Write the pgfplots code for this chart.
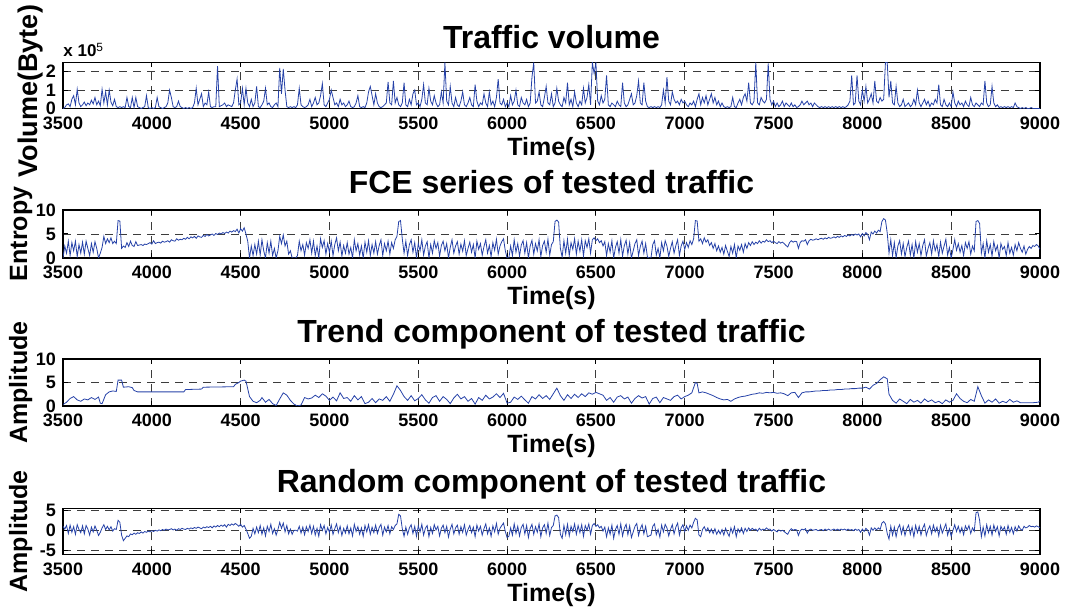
\documentclass[border=0pt]{standalone}
\usepackage{fontspec}
\setmainfont{Liberation Sans}
\usepackage{pgfplots}
\pgfplotsset{compat=1.18}
\definecolor{trace}{RGB}{38,66,168}
\definecolor{gridc}{RGB}{60,60,60}

\pgfplotsset{
  panel/.style={
    scale only axis, width=488.5pt,
    xmin=3500, xmax=9000, xtick={3500,4000,...,9000},
    grid=major,
    major grid style={dash pattern=on 4pt off 3pt, gridc, line width=0.45pt},
    tick align=inside, major tick length=2.5pt,
    tick style={black, line width=0.5pt},
    axis line style={black, line width=0.6pt},
    clip mode=individual,
    /pgf/number format/assume math mode=true,
    /pgf/number format/1000 sep={},
    ticklabel style={font=\fontsize{9}{9}\selectfont\bfseries},
    xticklabel style={anchor=base, yshift=-10.5pt},
    xlabel={Time(s)},
    every axis x label/.style={at={(axis description cs:0.5,0)}, anchor=base, yshift=-23.5pt,
                  font=\fontsize{12.5}{12.5}\selectfont\bfseries},
    every axis title/.style={at={(axis description cs:0.5,1)}, anchor=base, yshift=8pt,
                 font=\fontsize{16}{16}\selectfont\bfseries},
    every axis y label/.style={rotate=90, anchor=base, font=\fontsize{12.5}{12.5}\selectfont\bfseries},
    cycle list={{trace, line width=0.5pt, mark=none}},
  }
}

\begin{document}
\begin{tikzpicture}
\path[use as bounding box] (0,0) rectangle (532.5pt,305pt);

% ---------------- Traffic volume (bytes, in units of 1e5) ----------------
\begin{axis}[panel, at={(31.5pt,250.75pt)}, anchor=south west, height=23pt,
  ymin=0, ymax=2.5, ytick={0,1,2},
  title={Traffic volume}, title style={yshift=-1pt},
  ylabel={Volume(Byte)},
  ylabel style={at={(axis description cs:-0.0261,0.38)}, font=\fontsize{13.5}{13.5}\selectfont\bfseries}]
\addplot coordinates {
(3500,0.00)(3510,0.05)(3520,0.20)(3530,0.25)(3540,0.10)(3550,0.50)(3560,0.70)(3570,0.20)(3580,1.05)(3590,0.30)
(3600,0.10)(3610,0.20)(3620,0.35)(3630,0.15)(3640,0.30)(3650,0.20)(3660,0.45)(3670,0.25)(3680,0.60)(3690,0.20)
(3700,0.40)(3710,0.15)(3720,1.05)(3730,0.30)(3740,0.90)(3750,0.20)(3760,1.00)(3770,0.35)(3780,0.15)(3790,0.50)
(3800,0.10)(3810,0.05)(3820,0.10)(3830,0.05)(3840,0.10)(3850,0.05)(3860,0.60)(3870,0.10)(3880,0.05)(3890,0.60)
(3900,0.05)(3910,0.60)(3920,0.10)(3930,0.05)(3940,0.00)(3950,0.05)(3960,0.10)(3970,0.70)(3980,0.05)(3990,0.00)
(4000,0.05)(4010,0.00)(4020,0.05)(4030,0.60)(4040,0.10)(4050,0.05)(4060,0.00)(4070,0.05)(4080,0.10)(4090,0.30)
(4100,1.00)(4110,0.60)(4120,0.10)(4130,0.05)(4140,0.10)(4150,0.40)(4160,0.10)(4170,0.05)(4180,0.00)(4190,0.05)
(4200,0.00)(4210,0.05)(4220,0.00)(4230,0.05)(4240,0.30)(4250,1.10)(4260,0.20)(4270,0.50)(4280,0.80)(4290,0.10)
(4300,0.30)(4310,0.20)(4320,0.90)(4330,0.10)(4340,0.05)(4350,0.10)(4360,0.10)(4370,2.30)(4380,0.10)(4390,0.15)
(4400,0.20)(4410,0.30)(4420,0.10)(4430,0.20)(4440,0.15)(4450,0.10)(4460,0.30)(4470,1.00)(4480,1.60)(4490,0.20)
(4500,0.30)(4510,1.10)(4520,0.20)(4530,1.10)(4540,0.30)(4550,0.10)(4560,0.50)(4570,0.10)(4580,0.30)(4590,1.20)
(4600,0.10)(4610,0.05)(4620,0.20)(4630,0.40)(4640,1.10)(4650,0.20)(4660,0.30)(4670,0.10)(4680,0.05)(4690,0.20)
(4700,0.30)(4710,0.10)(4720,2.20)(4730,0.80)(4740,2.15)(4750,1.00)(4760,0.10)(4770,0.05)(4780,0.10)(4790,0.05)
(4800,0.10)(4810,0.05)(4820,0.20)(4830,1.10)(4840,0.20)(4850,0.10)(4860,0.05)(4870,0.10)(4880,0.20)(4890,0.50)
(4900,0.10)(4910,0.30)(4920,0.60)(4930,0.20)(4940,0.30)(4950,0.70)(4960,1.35)(4970,0.20)(4980,0.10)(4990,0.30)
(5000,0.50)(5010,1.00)(5020,0.60)(5030,0.20)(5040,0.30)(5050,0.10)(5060,0.50)(5070,0.20)(5080,0.30)(5090,0.10)
(5100,0.20)(5110,0.40)(5120,0.10)(5130,0.05)(5140,0.10)(5150,0.30)(5160,0.70)(5170,0.10)(5180,0.05)(5190,0.10)
(5200,0.05)(5210,0.30)(5220,0.90)(5230,1.20)(5240,0.70)(5250,0.20)(5260,0.80)(5270,0.30)(5280,0.10)(5290,0.05)
(5300,0.10)(5310,0.20)(5320,0.30)(5330,1.45)(5340,0.30)(5350,0.20)(5360,1.50)(5370,0.30)(5380,0.60)(5390,0.20)
(5400,0.10)(5410,0.30)(5420,1.40)(5430,0.20)(5440,0.10)(5450,0.50)(5460,0.20)(5470,0.80)(5480,1.00)(5490,0.20)
(5500,0.30)(5510,0.10)(5520,0.50)(5530,1.30)(5540,0.30)(5550,0.20)(5560,1.10)(5570,0.40)(5580,0.20)(5590,0.70)
(5600,0.30)(5610,0.10)(5620,0.20)(5630,0.90)(5640,0.30)(5650,2.50)(5660,0.40)(5670,0.20)(5680,1.20)(5690,0.30)
(5700,0.10)(5710,0.60)(5720,0.20)(5730,0.10)(5740,0.40)(5750,0.90)(5760,0.20)(5770,0.10)(5780,0.30)(5790,0.60)
(5800,0.20)(5810,0.10)(5820,1.30)(5830,0.40)(5840,0.10)(5850,0.30)(5860,0.20)(5870,0.80)(5880,0.30)(5890,0.10)
(5900,0.90)(5910,0.20)(5920,0.40)(5930,0.10)(5940,0.60)(5950,1.60)(5960,0.30)(5970,0.20)(5980,0.50)(5990,0.10)
(6000,0.30)(6010,0.10)(6020,0.70)(6030,0.20)(6040,0.40)(6050,1.00)(6060,0.20)(6070,0.10)(6080,0.60)(6090,0.30)
(6100,0.20)(6110,0.50)(6120,0.10)(6130,0.30)(6140,1.70)(6150,2.50)(6160,0.30)(6170,0.40)(6180,0.90)(6190,0.20)
(6200,0.10)(6210,0.60)(6220,1.20)(6230,0.30)(6240,0.20)(6250,0.80)(6260,0.10)(6270,0.30)(6280,1.10)(6290,0.40)
(6300,0.20)(6310,0.10)(6320,0.60)(6330,0.30)(6340,1.40)(6350,0.20)(6360,0.50)(6370,0.10)(6380,0.90)(6390,0.30)
(6400,0.10)(6410,0.40)(6420,0.20)(6430,1.10)(6440,0.30)(6450,0.60)(6460,1.30)(6470,0.20)(6480,2.50)(6490,1.90)
(6500,2.50)(6510,0.40)(6520,0.20)(6530,0.70)(6540,0.30)(6550,0.50)(6560,1.80)(6570,0.20)(6580,0.10)(6590,0.30)
(6600,0.20)(6610,0.10)(6620,0.40)(6630,0.20)(6640,0.10)(6650,1.40)(6660,0.30)(6670,0.10)(6680,0.20)(6690,0.50)
(6700,0.80)(6710,0.20)(6720,0.30)(6730,0.70)(6740,1.50)(6750,0.30)(6760,0.20)(6770,1.40)(6780,0.40)(6790,0.10)
(6800,0.05)(6810,0.10)(6820,0.05)(6830,0.10)(6840,0.05)(6850,0.10)(6860,0.05)(6870,0.20)(6880,1.00)(6890,0.30)
(6900,1.70)(6910,0.40)(6920,0.20)(6930,0.90)(6940,0.50)(6950,0.30)(6960,0.40)(6970,0.20)(6980,0.50)(6990,0.30)
(7000,0.40)(7010,0.20)(7020,0.10)(7030,0.30)(7040,0.20)(7050,0.40)(7060,0.10)(7070,0.50)(7080,0.80)(7090,0.20)
(7100,0.60)(7110,0.30)(7120,0.70)(7130,0.20)(7140,0.50)(7150,0.80)(7160,0.30)(7170,0.60)(7180,0.20)(7190,0.40)
(7200,0.10)(7210,0.30)(7220,0.10)(7230,0.05)(7240,0.10)(7250,0.05)(7260,0.10)(7270,0.60)(7280,0.10)(7290,0.05)
(7300,0.30)(7310,0.50)(7320,0.20)(7330,0.60)(7340,0.80)(7350,0.40)(7360,1.40)(7370,0.30)(7380,0.20)(7390,0.40)
(7400,2.50)(7410,0.30)(7420,0.20)(7430,0.60)(7440,0.40)(7450,0.30)(7460,0.50)(7470,2.45)(7480,0.50)(7490,0.20)
(7500,0.40)(7510,0.10)(7520,0.30)(7530,0.10)(7540,0.20)(7550,0.40)(7560,0.10)(7570,0.30)(7580,0.20)(7590,0.10)
(7600,0.30)(7610,0.10)(7620,0.20)(7630,0.05)(7640,0.10)(7650,0.20)(7660,0.40)(7670,0.20)(7680,0.30)(7690,0.40)
(7700,0.20)(7710,0.30)(7720,0.10)(7730,0.30)(7740,0.20)(7750,0.10)(7760,0.05)(7770,0.10)(7780,0.05)(7790,0.10)
(7800,0.05)(7810,0.10)(7820,0.05)(7830,0.10)(7840,0.05)(7850,0.10)(7860,0.05)(7870,0.10)(7880,0.05)(7890,0.10)
(7900,0.05)(7910,0.10)(7920,0.20)(7930,0.40)(7940,1.80)(7950,0.20)(7960,0.30)(7970,1.80)(7980,0.40)(7990,0.20)
(8000,1.00)(8010,0.40)(8020,1.20)(8030,0.30)(8040,0.50)(8050,0.80)(8060,0.30)(8070,1.50)(8080,0.40)(8090,0.30)
(8100,0.60)(8110,0.40)(8120,0.50)(8130,2.50)(8140,2.50)(8150,0.60)(8160,1.50)(8170,0.30)(8180,0.20)(8190,1.20)
(8200,0.30)(8210,0.10)(8220,0.20)(8230,0.50)(8240,0.10)(8250,0.20)(8260,0.30)(8270,0.10)(8280,0.20)(8290,0.50)
(8300,0.20)(8310,1.00)(8320,0.30)(8330,0.10)(8340,0.30)(8350,0.50)(8360,0.20)(8370,0.40)(8380,0.10)(8390,0.30)
(8400,0.20)(8410,0.50)(8420,0.30)(8430,1.30)(8440,0.20)(8450,0.10)(8460,0.50)(8470,0.20)(8480,0.10)(8490,0.30)
(8500,0.10)(8510,0.90)(8520,0.30)(8530,0.10)(8540,0.40)(8550,0.20)(8560,0.30)(8570,0.10)(8580,0.40)(8590,0.20)
(8600,0.10)(8610,0.60)(8620,0.20)(8630,0.10)(8640,0.30)(8650,0.20)(8660,0.10)(8670,0.30)(8680,0.20)(8690,1.50)
(8700,0.30)(8710,0.10)(8720,0.20)(8730,1.20)(8740,0.30)(8750,0.10)(8760,0.20)(8770,0.05)(8780,0.10)(8790,0.05)
(8800,0.10)(8810,0.05)(8820,0.10)(8830,0.05)(8840,0.10)(8850,0.05)(8860,0.30)(8870,0.10)(8880,0.05)(8890,0.00)
(8900,0.05)(8910,0.00)(8920,0.05)(8930,0.00)(8940,0.00)(8950,0.05)(8960,0.00)(8970,0.00)(8980,0.00)(8990,0.00)(9000,0.00)
};
\node[anchor=base west, font=\fontsize{8.5}{8.5}\selectfont\bfseries, inner sep=0pt]
  at (rel axis cs:0,1) [yshift=2.8pt] {x 10\textsuperscript{\mdseries 5}};
\end{axis}

% ---------------- FCE series ----------------
\begin{axis}[panel, at={(31.5pt,176pt)}, anchor=south west, height=24pt,
  ymin=0, ymax=10, ytick={0,5,10},
  title={FCE series of tested traffic},
  ylabel={Entropy}, ylabel style={at={(axis description cs:-0.0367,0.5)}}]
\addplot coordinates {
(3500,0.0)(3510,2.5)(3520,1.0)(3530,3.5)(3540,0.5)(3550,3.2)(3560,1.5)(3570,3.5)(3580,0.3)(3590,2.8)
(3600,1.0)(3610,3.3)(3620,0.8)(3630,3.5)(3640,2.0)(3650,0.5)(3660,3.0)(3670,1.2)(3680,3.4)(3690,2.0)
(3700,0.0)(3710,1.0)(3720,2.2)(3730,4.5)(3740,3.0)(3750,4.0)(3760,3.2)(3770,4.2)(3780,3.0)(3790,3.5)
(3800,3.0)(3810,7.8)(3820,7.7)(3830,2.0)(3840,2.5)(3850,2.2)(3860,3.2)(3870,2.4)(3880,3.5)(3890,2.6)
(3900,2.4)(3910,3.4)(3920,2.6)(3930,2.7)(3940,2.8)(3950,2.6)(3960,2.9)(3970,2.8)(3980,3.0)(3990,3.2)
(4000,2.9)(4010,3.6)(4020,3.0)(4030,3.2)(4040,3.3)(4050,3.1)(4060,3.5)(4070,3.3)(4080,3.4)(4090,3.6)
(4100,3.3)(4110,3.8)(4120,3.6)(4130,3.5)(4140,4.0)(4150,3.7)(4160,3.9)(4170,3.8)(4180,4.1)(4190,3.9)
(4200,4.3)(4210,4.0)(4220,4.4)(4230,4.2)(4240,4.5)(4250,4.1)(4260,4.6)(4270,4.4)(4280,4.3)(4290,4.7)
(4300,4.5)(4310,4.9)(4320,4.6)(4330,4.8)(4340,5.0)(4350,4.7)(4360,5.1)(4370,4.9)(4380,5.2)(4390,5.0)
(4400,5.3)(4410,5.1)(4420,5.4)(4430,5.2)(4440,5.6)(4450,5.4)(4460,5.7)(4470,5.5)(4480,6.0)(4490,5.2)
(4500,6.1)(4510,5.6)(4520,6.3)(4530,5.0)(4540,3.5)(4550,0.0)(4560,2.5)(4570,0.5)(4580,2.8)(4590,0.8)
(4600,3.5)(4610,0.6)(4620,3.8)(4630,1.5)(4640,0.0)(4650,3.2)(4660,1.0)(4670,3.5)(4680,0.5)(4690,2.0)
(4700,0.0)(4710,1.5)(4720,4.5)(4730,3.0)(4740,4.8)(4750,2.5)(4760,3.5)(4770,0.8)(4780,1.5)(4790,0.0)
(4800,0.0)(4810,0.0)(4820,0.5)(4830,3.5)(4840,1.5)(4850,2.8)(4860,0.6)(4870,3.2)(4880,2.0)(4890,3.8)
(4900,1.0)(4910,3.5)(4920,0.5)(4930,2.5)(4940,0.0)(4950,4.0)(4960,2.2)(4970,3.6)(4980,0.8)(4990,3.0)
(5000,1.2)(5010,3.5)(5020,0.5)(5030,2.8)(5040,4.2)(5050,1.5)(5060,3.3)(5070,0.4)(5080,2.6)(5090,1.0)
(5100,3.2)(5110,0.8)(5120,2.2)(5130,0.0)(5140,3.8)(5150,1.5)(5160,3.0)(5170,0.6)(5180,2.5)(5190,0.0)
(5200,3.3)(5210,1.2)(5220,3.6)(5230,0.5)(5240,2.8)(5250,1.0)(5260,3.4)(5270,0.8)(5280,2.6)(5290,3.8)
(5300,0.5)(5310,3.0)(5320,1.5)(5330,3.5)(5340,0.8)(5350,3.2)(5360,2.0)(5370,3.8)(5380,4.5)(5390,7.6)
(5400,7.8)(5410,4.0)(5420,1.0)(5430,3.5)(5440,0.5)(5450,2.8)(5460,3.8)(5470,1.2)(5480,3.2)(5490,0.0)
(5500,3.0)(5510,1.5)(5520,3.8)(5530,0.6)(5540,2.5)(5550,3.4)(5560,0.0)(5570,2.8)(5580,1.0)(5590,3.6)
(5600,2.0)(5610,3.2)(5620,0.4)(5630,2.6)(5640,3.5)(5650,1.5)(5660,3.0)(5670,0.0)(5680,2.2)(5690,3.8)
(5700,1.0)(5710,2.5)(5720,3.4)(5730,0.8)(5740,2.9)(5750,1.4)(5760,3.6)(5770,0.5)(5780,2.0)(5790,3.3)
(5800,1.2)(5810,2.8)(5820,0.0)(5830,3.5)(5840,1.8)(5850,3.0)(5860,0.6)(5870,2.4)(5880,3.8)(5890,1.0)
(5900,2.6)(5910,0.3)(5920,3.2)(5930,1.6)(5940,3.9)(5950,0.8)(5960,2.5)(5970,3.4)(5980,4.0)(5990,1.5)
(6000,0.0)(6010,0.0)(6020,2.5)(6030,0.5)(6040,3.8)(6050,1.2)(6060,3.0)(6070,0.4)(6080,2.7)(6090,3.6)
(6100,1.0)(6110,3.2)(6120,0.0)(6130,2.5)(6140,3.7)(6150,0.8)(6160,3.0)(6170,1.5)(6180,3.8)(6190,0.3)
(6200,2.6)(6210,3.5)(6220,1.2)(6230,3.9)(6240,0.6)(6250,2.8)(6260,3.4)(6270,7.6)(6280,7.9)(6290,7.5)
(6300,2.0)(6310,0.2)(6320,3.6)(6330,1.0)(6340,3.9)(6350,0.5)(6360,3.2)(6370,1.8)(6380,4.0)(6390,0.8)
(6400,3.5)(6410,1.4)(6420,3.8)(6430,0.4)(6440,3.6)(6450,2.2)(6460,4.0)(6470,1.0)(6480,3.8)(6490,4.2)
(6500,3.6)(6510,4.0)(6520,3.2)(6530,3.6)(6540,2.5)(6550,3.4)(6560,0.5)(6570,3.0)(6580,1.2)(6590,3.6)
(6600,0.0)(6610,2.2)(6620,3.4)(6630,1.0)(6640,3.8)(6650,0.4)(6660,2.6)(6670,3.7)(6680,0.8)(6690,3.2)
(6700,0.0)(6710,1.5)(6720,3.0)(6730,3.8)(6740,0.5)(6750,2.4)(6760,3.5)(6770,1.0)(6780,3.0)(6790,0.2)
(6800,0.0)(6810,0.0)(6820,2.8)(6830,3.6)(6840,0.6)(6850,2.0)(6860,0.0)(6870,3.2)(6880,1.5)(6890,3.6)
(6900,2.5)(6910,0.3)(6920,2.0)(6930,3.4)(6940,1.0)(6950,2.6)(6960,3.8)(6970,0.5)(6980,2.5)(6990,3.5)
(7000,1.8)(7010,3.2)(7020,2.2)(7030,3.6)(7040,2.8)(7050,4.0)(7060,7.8)(7070,7.7)(7080,3.5)(7090,4.0)
(7100,3.0)(7110,4.2)(7120,3.3)(7130,3.8)(7140,2.6)(7150,3.2)(7160,2.0)(7170,3.0)(7180,1.5)(7190,2.5)
(7200,1.2)(7210,2.2)(7220,0.8)(7230,2.6)(7240,1.4)(7250,0.3)(7260,2.4)(7270,1.0)(7280,2.8)(7290,0.0)
(7300,2.5)(7310,1.6)(7320,2.8)(7330,1.2)(7340,3.0)(7350,2.0)(7360,3.2)(7370,2.6)(7380,3.4)(7390,2.8)
(7400,3.3)(7410,3.0)(7420,3.6)(7430,3.1)(7440,3.5)(7450,3.3)(7460,3.8)(7470,3.4)(7480,3.6)(7490,3.2)
(7500,3.5)(7510,3.2)(7520,3.0)(7530,3.4)(7540,3.1)(7550,3.3)(7560,3.0)(7570,2.6)(7580,2.3)(7590,3.2)
(7600,3.6)(7610,3.3)(7620,3.5)(7630,3.4)(7640,2.0)(7650,3.2)(7660,3.6)(7670,3.5)(7680,3.8)(7690,2.8)
(7700,3.6)(7710,3.9)(7720,3.7)(7730,3.8)(7740,4.0)(7750,3.8)(7760,4.0)(7770,4.1)(7780,3.9)(7790,4.2)
(7800,4.0)(7810,4.3)(7820,4.1)(7830,4.2)(7840,4.4)(7850,4.2)(7860,4.5)(7870,4.3)(7880,4.6)(7890,4.4)
(7900,4.7)(7910,4.5)(7920,4.8)(7930,4.6)(7940,4.9)(7950,4.7)(7960,5.0)(7970,4.8)(7980,5.0)(7990,4.4)
(8000,5.1)(8010,4.6)(8020,5.3)(8030,4.9)(8040,3.8)(8050,5.4)(8060,5.0)(8070,5.6)(8080,5.2)(8090,5.8)
(8100,5.5)(8110,7.6)(8120,8.2)(8130,7.9)(8140,5.2)(8150,1.0)(8160,3.8)(8170,0.5)(8180,3.2)(8190,0.0)
(8200,2.5)(8210,3.6)(8220,0.8)(8230,3.0)(8240,0.3)(8250,2.2)(8260,3.5)(8270,0.6)(8280,2.8)(8290,0.0)
(8300,3.4)(8310,1.2)(8320,3.0)(8330,0.5)(8340,2.6)(8350,3.8)(8360,0.4)(8370,2.0)(8380,3.2)(8390,0.8)
(8400,3.6)(8410,1.5)(8420,2.8)(8430,0.3)(8440,3.3)(8450,1.0)(8460,2.5)(8470,3.9)(8480,0.6)(8490,2.2)
(8500,0.0)(8510,1.8)(8520,3.8)(8530,1.6)(8540,3.0)(8550,1.2)(8560,2.6)(8570,0.5)(8580,3.2)(8590,2.0)
(8600,3.4)(8610,0.8)(8620,2.5)(8630,1.5)(8640,7.6)(8650,7.8)(8660,7.2)(8670,1.0)(8680,3.0)(8690,0.0)
(8700,3.6)(8710,1.2)(8720,2.8)(8730,0.4)(8740,3.4)(8750,1.5)(8760,2.6)(8770,0.0)(8780,3.0)(8790,1.8)
(8800,2.4)(8810,0.5)(8820,3.2)(8830,1.0)(8840,2.2)(8850,0.6)(8860,2.8)(8870,1.5)(8880,3.2)(8890,2.0)
(8900,1.2)(8910,2.5)(8920,0.8)(8930,1.8)(8940,2.4)(8950,2.0)(8960,2.6)(8970,2.4)(8980,2.8)(8990,2.5)(9000,1.8)
};
\end{axis}

% ---------------- Trend component ----------------
\begin{axis}[panel, at={(31.5pt,102pt)}, anchor=south west, height=23.5pt,
  ymin=0, ymax=10, ytick={0,5,10},
  title={Trend component of tested traffic},
  ylabel={Amplitude}, ylabel style={at={(axis description cs:-0.0367,0.5)}}]
\addplot coordinates {
(3500,0.3)(3520,0.8)(3540,1.6)(3560,2.0)(3580,1.3)(3600,1.0)(3620,1.5)(3640,1.3)(3660,1.8)(3680,1.4)
(3700,1.9)(3710,0.6)(3720,0.5)(3740,2.4)(3760,3.0)(3780,3.2)(3800,3.1)(3810,5.5)(3830,5.5)(3840,4.0)
(3870,4.1)(3890,3.9)(3900,3.3)(3920,3.0)(4180,3.0)(4190,3.5)(4280,3.6)(4290,4.0)(4460,4.1)(4470,4.6)
(4490,5.0)(4500,5.3)(4520,5.5)(4530,5.3)(4550,2.0)(4570,1.0)(4590,0.7)(4610,1.2)(4620,1.8)(4640,0.8)
(4660,1.4)(4680,0.5)(4700,0.1)(4720,1.5)(4740,2.8)(4760,2.3)(4780,1.2)(4800,0.4)(4820,0.0)(4840,0.2)
(4860,1.8)(4880,1.5)(4900,1.7)(4920,2.3)(4940,1.8)(4960,2.6)(4980,2.1)(5000,1.2)(5020,1.9)(5040,1.1)
(5060,2.8)(5080,1.6)(5100,1.8)(5120,1.0)(5140,2.2)(5160,1.3)(5180,2.0)(5200,0.5)(5220,0.8)(5240,1.6)
(5260,0.7)(5280,1.5)(5300,1.2)(5320,2.0)(5340,1.0)(5360,2.5)(5380,4.3)(5400,3.3)(5420,2.0)(5440,1.2)
(5460,2.2)(5480,1.1)(5500,1.6)(5520,2.4)(5540,1.3)(5560,0.6)(5580,1.8)(5600,2.2)(5620,1.0)(5640,2.0)
(5660,1.4)(5680,0.5)(5700,1.7)(5720,2.5)(5740,1.5)(5760,2.0)(5780,1.0)(5800,1.6)(5820,0.4)(5840,1.8)
(5860,1.2)(5880,2.3)(5900,1.5)(5920,1.9)(5940,2.6)(5960,1.8)(5980,2.7)(6000,0.6)(6020,0.8)(6040,1.9)
(6060,1.4)(6080,2.1)(6100,1.3)(6120,0.6)(6140,2.0)(6160,1.5)(6180,2.4)(6200,1.6)(6220,2.2)(6240,1.4)
(6260,2.6)(6280,3.8)(6300,2.2)(6320,1.2)(6340,2.4)(6360,1.6)(6380,2.5)(6400,1.8)(6420,2.6)(6440,2.0)
(6460,2.8)(6480,2.5)(6500,2.9)(6520,2.6)(6540,2.3)(6560,1.2)(6580,1.8)(6600,0.8)(6620,1.9)(6640,2.2)
(6660,1.5)(6680,1.9)(6700,0.6)(6720,1.6)(6740,2.2)(6760,1.7)(6780,2.0)(6800,0.4)(6820,1.6)(6840,1.9)
(6860,0.7)(6880,1.8)(6900,1.5)(6920,1.2)(6940,2.0)(6960,2.3)(6980,1.5)(7000,2.0)(7020,2.3)(7040,2.8)
(7060,5.0)(7070,4.8)(7080,2.8)(7100,3.0)(7120,2.8)(7140,2.5)(7160,2.2)(7180,1.8)(7200,1.5)(7220,1.3)
(7240,1.4)(7260,1.0)(7280,1.5)(7300,1.8)(7320,2.0)(7340,2.1)(7360,2.3)(7380,2.5)(7400,2.6)(7420,2.8)
(7440,2.7)(7460,2.9)(7480,2.8)(7500,2.9)(7520,2.7)(7540,2.8)(7560,2.6)(7580,2.2)(7600,2.8)(7620,2.9)
(7640,1.8)(7660,2.8)(7680,3.0)(7700,3.0)(7720,3.1)(7740,3.2)(7760,3.2)(7780,3.3)(7800,3.3)(7820,3.4)
(7840,3.4)(7860,3.5)(7880,3.5)(7900,3.6)(7920,3.6)(7940,3.7)(7960,3.7)(7980,3.8)(8000,3.8)(8020,4.0)
(8040,3.6)(8060,4.4)(8080,4.8)(8100,5.6)(8120,6.2)(8140,5.8)(8150,2.5)(8170,1.2)(8190,0.6)(8210,1.5)
(8230,1.0)(8250,0.5)(8270,1.4)(8290,0.8)(8310,1.2)(8330,0.6)(8350,1.5)(8370,0.9)(8390,1.3)(8410,0.7)
(8430,1.0)(8450,0.5)(8470,1.3)(8490,0.8)(8510,1.2)(8530,2.6)(8550,1.6)(8570,1.0)(8590,0.7)(8610,1.4)
(8630,1.0)(8650,4.1)(8670,2.2)(8690,0.6)(8710,1.3)(8730,0.8)(8750,1.5)(8770,0.6)(8790,1.0)(8810,0.7)
(8830,1.4)(8850,0.8)(8870,1.1)(8890,0.7)(8920,0.7)(8960,0.7)(8990,0.8)(9000,1.1)
};
\end{axis}

% ---------------- Random component ----------------
\begin{axis}[panel, at={(31.5pt,27.85pt)}, anchor=south west, height=23pt,
  ymin=-6, ymax=5.5, ytick={-5,0,5},
  title={Random component of tested traffic},
  ylabel={Amplitude}, ylabel style={at={(axis description cs:-0.0367,0.5)}}]
\addplot coordinates {
(3500,1.0)(3510,0.3)(3520,1.2)(3530,-0.8)(3540,1.3)(3550,-0.5)(3560,0.9)(3570,-1.0)(3580,1.4)(3590,0.2)
(3600,-0.6)(3610,1.1)(3620,-0.9)(3630,1.2)(3640,0.3)(3650,-1.2)(3660,0.8)(3670,-0.4)(3680,1.1)(3690,0.0)
(3700,-1.3)(3710,-0.5)(3720,0.6)(3730,1.4)(3740,0.2)(3750,1.0)(3760,0.1)(3770,0.9)(3780,-0.2)(3790,0.4)
(3800,0.2)(3810,2.5)(3820,2.0)(3830,-1.2)(3840,-2.6)(3850,-2.0)(3860,-1.4)(3870,-1.6)(3880,-0.9)(3890,-1.1)
(3900,-0.7)(3910,-1.0)(3920,-0.6)(3930,-0.8)(3940,-0.4)(3950,-0.7)(3960,-0.3)(3970,-0.5)(3980,-0.2)(3990,-0.4)
(4000,-0.1)(4010,-0.3)(4020,0.0)(4030,-0.2)(4040,0.1)(4050,-0.1)(4060,0.2)(4070,0.0)(4080,0.3)(4090,0.1)
(4100,0.2)(4110,0.4)(4120,0.1)(4130,0.3)(4140,0.0)(4150,0.4)(4160,0.2)(4170,0.5)(4180,0.3)(4190,0.2)
(4200,0.5)(4210,0.3)(4220,0.6)(4230,0.4)(4240,0.7)(4250,0.5)(4260,0.8)(4270,0.6)(4280,0.4)(4290,0.8)
(4300,0.6)(4310,0.9)(4320,0.7)(4330,1.0)(4340,0.6)(4350,1.1)(4360,0.8)(4370,1.2)(4380,0.9)(4390,1.3)
(4400,1.0)(4410,1.4)(4420,0.8)(4430,1.5)(4440,1.2)(4450,1.6)(4460,1.3)(4470,1.7)(4480,1.4)(4490,1.0)
(4500,1.5)(4510,0.8)(4520,1.2)(4530,0.3)(4540,-0.8)(4550,-2.0)(4560,-1.5)(4570,0.5)(4580,-0.9)(4590,0.8)
(4600,-0.6)(4610,1.2)(4620,-1.0)(4630,0.6)(4640,-1.4)(4650,1.0)(4660,-0.3)(4670,1.5)(4680,-0.8)(4690,0.4)
(4700,-1.2)(4710,0.2)(4720,2.0)(4730,0.5)(4740,1.8)(4750,-0.4)(4760,1.2)(4770,-0.9)(4780,0.3)(4790,-1.0)
(4800,0.0)(4810,0.0)(4820,-0.2)(4830,1.0)(4840,-0.7)(4850,0.8)(4860,-1.1)(4870,0.9)(4880,-0.3)(4890,1.3)
(4900,-0.8)(4910,1.0)(4920,-1.2)(4930,0.5)(4940,-1.5)(4950,1.4)(4960,0.0)(4970,1.2)(4980,-0.9)(4990,0.7)
(5000,-0.5)(5010,1.3)(5020,-1.0)(5030,0.4)(5040,1.6)(5050,-0.6)(5060,1.0)(5070,-1.3)(5080,0.5)(5090,-0.7)
(5100,1.1)(5110,-0.9)(5120,0.6)(5130,-1.4)(5140,1.5)(5150,-0.3)(5160,0.9)(5170,-1.0)(5180,0.6)(5190,-1.5)
(5200,1.2)(5210,-0.4)(5220,1.4)(5230,-1.0)(5240,0.8)(5250,-0.6)(5260,1.3)(5270,-0.8)(5280,0.7)(5290,1.5)
(5300,-1.2)(5310,0.8)(5320,-0.4)(5330,1.2)(5340,-0.9)(5350,0.9)(5360,0.2)(5370,1.2)(5380,1.6)(5390,4.0)
(5400,3.6)(5410,0.4)(5420,-1.5)(5430,0.8)(5440,-1.0)(5450,0.6)(5460,1.4)(5470,-0.8)(5480,1.0)(5490,-1.5)
(5500,1.1)(5510,-0.4)(5520,1.5)(5530,-1.2)(5540,0.5)(5550,1.2)(5560,-1.6)(5570,0.7)(5580,-0.8)(5590,1.4)
(5600,0.1)(5610,1.0)(5620,-1.4)(5630,0.5)(5640,1.3)(5650,-0.6)(5660,1.0)(5670,-1.7)(5680,0.3)(5690,1.5)
(5700,-0.9)(5710,0.6)(5720,1.3)(5730,-1.0)(5740,0.9)(5750,-0.5)(5760,1.4)(5770,-1.2)(5780,0.2)(5790,1.2)
(5800,-0.6)(5810,0.8)(5820,-1.6)(5830,1.3)(5840,-0.2)(5850,1.0)(5860,-1.2)(5870,0.4)(5880,1.6)(5890,-0.9)
(5900,0.6)(5910,-1.5)(5920,1.1)(5930,-0.4)(5940,1.7)(5950,-1.0)(5960,0.5)(5970,1.2)(5980,1.8)(5990,-0.3)
(6000,-1.8)(6010,-1.5)(6020,0.6)(6030,-1.2)(6040,1.6)(6050,-0.8)(6060,1.0)(6070,-1.4)(6080,0.7)(6090,1.5)
(6100,-0.9)(6110,1.2)(6120,-1.8)(6130,0.5)(6140,1.5)(6150,-1.0)(6160,0.9)(6170,-0.5)(6180,1.6)(6190,-1.6)
(6200,0.6)(6210,1.4)(6220,-0.8)(6230,1.8)(6240,-1.3)(6250,0.7)(6260,1.2)(6270,3.6)(6280,3.8)(6290,3.2)
(6300,-1.0)(6310,-2.0)(6320,1.2)(6330,-1.1)(6340,1.5)(6350,-1.4)(6360,1.0)(6370,-0.3)(6380,1.6)(6390,-1.0)
(6400,1.2)(6410,-0.6)(6420,1.4)(6430,-1.5)(6440,1.2)(6450,0.0)(6460,1.6)(6470,-1.0)(6480,1.2)(6490,1.7)
(6500,1.0)(6510,1.4)(6520,0.6)(6530,1.0)(6540,-0.2)(6550,0.8)(6560,-1.6)(6570,0.6)(6580,-1.0)(6590,1.3)
(6600,-2.0)(6610,0.2)(6620,1.2)(6630,-1.0)(6640,1.6)(6650,-1.4)(6660,0.5)(6670,1.5)(6680,-1.1)(6690,1.1)
(6700,-1.8)(6710,-0.4)(6720,1.0)(6730,1.7)(6740,-1.3)(6750,0.4)(6760,1.4)(6770,-0.9)(6780,1.0)(6790,-1.6)
(6800,-1.4)(6810,-1.2)(6820,1.0)(6830,1.6)(6840,-1.1)(6850,0.2)(6860,-1.7)(6870,1.3)(6880,-0.4)(6890,1.5)
(6900,0.6)(6910,-1.4)(6920,0.2)(6930,1.4)(6940,-0.9)(6950,0.8)(6960,1.8)(6970,-1.2)(6980,0.6)(6990,1.4)
(7000,-0.3)(7010,1.1)(7020,0.0)(7030,1.3)(7040,0.6)(7050,2.0)(7060,3.0)(7070,2.6)(7080,-1.2)(7090,-1.6)
(7100,0.2)(7110,0.9)(7120,-0.2)(7130,0.6)(7140,-0.6)(7150,0.3)(7160,-0.8)(7170,0.4)(7180,-1.0)(7190,0.0)
(7200,-0.9)(7210,0.2)(7220,-1.2)(7230,0.5)(7240,-0.6)(7250,-1.5)(7260,0.6)(7270,-0.7)(7280,0.9)(7290,-1.6)
(7300,0.4)(7310,-0.5)(7320,0.6)(7330,-0.8)(7340,0.5)(7350,-0.3)(7360,0.6)(7370,0.0)(7380,0.5)(7390,0.1)
(7400,0.3)(7410,-0.2)(7420,0.5)(7430,0.0)(7440,0.3)(7450,0.1)(7460,0.6)(7470,0.2)(7480,0.3)(7490,-0.2)
(7500,0.2)(7510,-0.1)(7520,-0.4)(7530,0.1)(7540,-0.2)(7550,0.0)(7560,-0.3)(7570,-0.7)(7580,-1.0)(7590,-0.1)
(7600,0.4)(7610,0.0)(7620,0.2)(7630,0.1)(7640,-1.3)(7650,-0.1)(7660,0.3)(7670,0.1)(7680,0.4)(7690,-0.7)
(7700,0.1)(7710,0.3)(7720,0.0)(7730,0.1)(7740,0.2)(7750,-0.1)(7760,0.1)(7770,0.2)(7780,-0.1)(7790,0.3)
(7800,0.0)(7810,0.3)(7820,0.0)(7830,0.1)(7840,0.3)(7850,0.0)(7860,0.3)(7870,0.0)(7880,0.3)(7890,0.1)
(7900,0.3)(7910,0.0)(7920,0.3)(7930,0.0)(7940,0.2)(7950,-0.1)(7960,0.3)(7970,0.0)(7980,0.2)(7990,-0.5)
(8000,0.3)(8010,-0.3)(8020,0.5)(8030,0.0)(8040,-1.2)(8050,0.6)(8060,0.0)(8070,0.6)(8080,0.1)(8090,0.6)
(8100,0.2)(8110,1.8)(8120,2.2)(8130,1.6)(8140,-0.8)(8150,-2.2)(8160,1.0)(8170,-1.2)(8180,0.8)(8190,-1.6)
(8200,0.5)(8210,1.4)(8220,-0.9)(8230,0.9)(8240,-1.3)(8250,0.4)(8260,1.3)(8270,-1.0)(8280,0.8)(8290,-1.6)
(8300,1.2)(8310,-0.6)(8320,1.0)(8330,-1.2)(8340,0.6)(8350,1.5)(8360,-1.3)(8370,0.2)(8380,1.1)(8390,-0.9)
(8400,1.3)(8410,-0.4)(8420,0.8)(8430,-1.4)(8440,1.2)(8450,-0.7)(8460,0.5)(8470,1.6)(8480,-1.2)(8490,0.4)
(8500,-1.5)(8510,0.0)(8520,1.4)(8530,-0.3)(8540,1.0)(8550,-0.6)(8560,0.7)(8570,-1.1)(8580,1.1)(8590,0.1)
(8600,1.2)(8610,-0.8)(8620,0.6)(8630,-0.2)(8640,4.4)(8650,4.6)(8660,2.5)(8670,-1.6)(8680,0.8)(8690,-1.4)
(8700,1.4)(8710,-0.6)(8720,1.0)(8730,-1.2)(8740,1.3)(8750,-0.3)(8760,0.9)(8770,-1.4)(8780,1.0)(8790,0.0)
(8800,0.8)(8810,-1.0)(8820,1.2)(8830,-0.5)(8840,0.7)(8850,-0.9)(8860,0.9)(8870,-0.2)(8880,1.1)(8890,0.3)
(8900,0.0)(8910,1.0)(8920,0.6)(8930,0.8)(8940,1.2)(8950,0.9)(8960,1.0)(8970,0.8)(8980,1.1)(8990,0.9)(9000,0.6)
};
\end{axis}
\end{tikzpicture}
\end{document}
